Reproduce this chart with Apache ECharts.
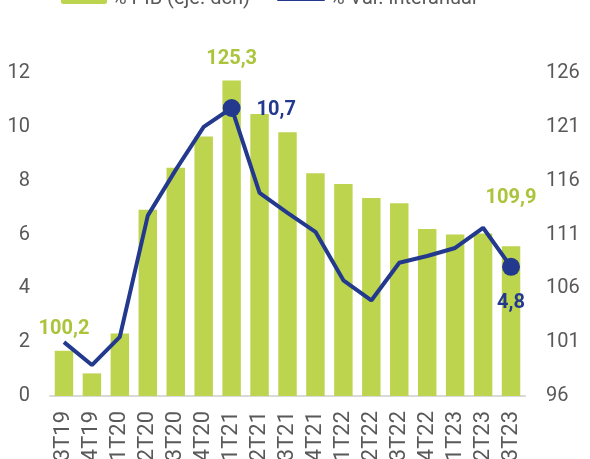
<!DOCTYPE html>
<html>
<head>
<meta charset="utf-8">
<script src="https://cdn.jsdelivr.net/npm/echarts@6/dist/echarts.min.js"></script>
<style>
  html, body { margin: 0; padding: 0; background: #fff; }
  #chart { width: 590px; height: 459px; }
</style>
</head>
<body>
<div id="chart"></div>
<script>
// trimestres
const categories = ['3T19', '4T19', '1T20', '2T20', '3T20', '4T20', '1T21', '2T21', '3T21',
  '4T21', '1T22', '2T22', '3T22', '4T22', '1T23', '2T23', '3T23'];
// % PIB (eje dch)
const pibValues = [100.2, 98.1, 101.8, 113.3, 117.2, 120.1, 125.3, 122.2, 120.5,
  116.7, 115.7, 114.4, 113.9, 111.5, 111.0, 111.1, 109.9];
// % var. interanual (eje izq)
const varValues = [2.0, 1.15, 2.2, 6.7, 8.4, 10.0, 10.7, 7.55, 6.8,
  6.1, 4.3, 3.55, 4.95, 5.2, 5.5, 6.25, 4.8];
const leftTicks = { min: 0, max: 12, interval: 2 };
const rightTicks = { min: 96, max: 126, interval: 5 };

const GREEN = '#bdd44e';
const GREEN_TXT = '#abc43c';
const BLUE = '#23398e';
const GREY = '#595959';
const fmt = v => String(v).replace('.', ',');

// etiquetas de barras: indice -> distancia sobre la barra
const barLabels = { 0: 12, 6: 12, 16: 38 };
const barData = pibValues.map((v, i) => {
  if (barLabels[i] === undefined) return v;
  return {
    value: v,
    label: {
      show: true, position: 'top', distance: barLabels[i],
      color: GREEN_TXT, fontSize: 20, fontWeight: 'bold',
      fontFamily: 'Roboto', formatter: p => fmt(p.value)
    }
  };
});

const lineData = varValues.map((v, i) => {
  if (i === 6) {
    return {
      value: v, symbol: 'circle', symbolSize: 18,
      label: { show: true, position: 'right', distance: 16, offset: [0, 2] }
    };
  }
  if (i === 16) {
    return {
      value: v, symbol: 'circle', symbolSize: 18,
      label: { show: true, position: 'bottom', distance: 17 }
    };
  }
  return v;
});

let myChart = echarts.init(document.getElementById('chart'));
let options = {
  animation: false,
  textStyle: { fontFamily: 'Roboto' },
  legend: [{
    data: ['% PIB (eje. dch)'],
    left: 61, top: -11, padding: 0,
    itemWidth: 46, itemHeight: 10,
    textStyle: { fontSize: 20, color: GREY }
  }, {
    data: [{ name: '% Var. interanual', icon: 'roundRect' }],
    left: 277, top: -11, padding: 0,
    itemWidth: 48, itemHeight: 4,
    textStyle: { fontSize: 20, color: GREY }
  }],
  grid: { left: 50, right: 65, top: 73, bottom: 63, outerBoundsMode: 'none' },
  xAxis: {
    type: 'category',
    data: categories,
    axisLine: { lineStyle: { color: '#d9d9d9', width: 2 } },
    axisTick: { show: false },
    axisLabel: { rotate: 90, color: GREY, fontSize: 22, margin: 15, interval: 0 }
  },
  yAxis: [{
    type: 'value',
    position: 'left',
    min: leftTicks.min, max: leftTicks.max, interval: leftTicks.interval,
    splitLine: { show: false },
    axisLine: { show: false },
    axisLabel: { color: GREY, fontSize: 20, margin: 20 }
  }, {
    type: 'value',
    position: 'right',
    min: rightTicks.min, max: rightTicks.max, interval: rightTicks.interval,
    splitLine: { show: false },
    axisLine: { show: false },
    axisLabel: { color: GREY, fontSize: 20, margin: 21 }
  }],
  series: [{
    name: '% PIB (eje. dch)',
    type: 'bar',
    yAxisIndex: 1,
    data: barData,
    barCategoryGap: '34%',
    itemStyle: { color: GREEN }
  }, {
    name: '% Var. interanual',
    type: 'line',
    yAxisIndex: 0,
    data: lineData,
    symbol: 'none',
    showSymbol: true,
    lineStyle: { color: BLUE, width: 4 },
    itemStyle: { color: BLUE },
    label: {
      color: BLUE, fontSize: 20, fontWeight: 'bold',
      formatter: p => fmt(p.value)
    },
    z: 3
  }]
};
myChart.setOption(options);
</script>
</body>
</html>
